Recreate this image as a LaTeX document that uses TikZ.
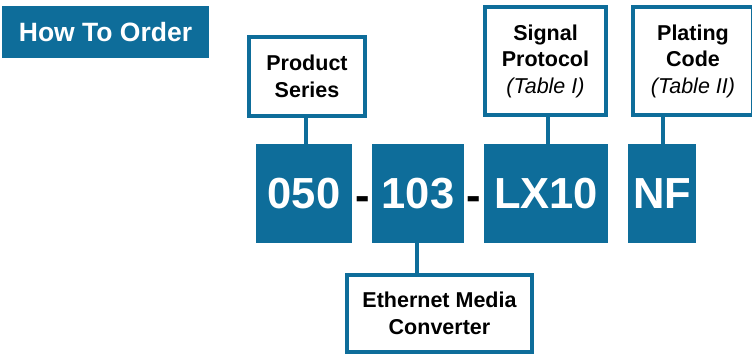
\documentclass[tikz,border=0pt]{standalone}
\usepackage{fontspec}
\setmainfont{Liberation Sans}
\definecolor{toblue}{RGB}{14,109,154}
\begin{document}
\begin{tikzpicture}[x=1pt,y=-1pt,
  bluebox/.style={fill=toblue, inner sep=0pt, text=white, font=\fontsize{43.5}{50}\selectfont\bfseries},
  labelbox/.style={draw=toblue, line width=4pt, fill=white, inner sep=0pt, align=center, font=\fontsize{21.5}{26.5}\selectfont\bfseries},
  link/.style={draw=toblue, line width=4.5pt},
  sep/.style={inner sep=0pt, anchor=base, font=\fontsize{43.5}{50}\selectfont\bfseries}
]
\clip (0,0) rectangle (752,354);
\fill[white] (0,0) rectangle (752,354);

\node[bluebox, minimum width=207pt, minimum height=52pt, font=\fontsize{26.5}{30}\selectfont\bfseries] (title) at (105.5,32) {How To Order};

\node[bluebox, minimum width=96pt, minimum height=99pt] (n050) at (304,193.5) {050};
\node[bluebox, minimum width=92pt, minimum height=99pt] (n103) at (418,193.5) {103};
\node[bluebox, minimum width=124pt, minimum height=99pt] (nlx) at (546,193.5) {LX10};
\node[bluebox, minimum width=68pt, minimum height=99pt] (nnf) at (662,193.5) {NF};

\node[sep] (d1) at (362.5,210) {-};
\node[sep] (d2) at (474,210) {-};

\node[labelbox, minimum width=116pt, minimum height=79pt] (prod) at (307,76.5) {Product\\Series};
\node[labelbox, minimum width=121pt, minimum height=108pt] (sig) at (545.5,61) {Signal\\Protocol\\{\mdseries\itshape (Table I)}};
\node[labelbox, minimum width=120pt, minimum height=108pt] (plat) at (693,61) {Plating\\Code\\{\mdseries\itshape (Table II)}};
\node[labelbox, minimum width=185pt, minimum height=77pt] (eth) at (439.5,313.5) {Ethernet Media\\Converter};

\draw[link] ([xshift=-1pt]prod.south) -- ([xshift=2pt]n050.north);
\draw[link] ([xshift=2.5pt]sig.south) -- ([xshift=2pt]nlx.north);
\draw[link] ([xshift=-30pt]plat.south) -- ([xshift=1pt]nnf.north);
\draw[link] ([xshift=-1pt]n103.south) -- ([xshift=-22.5pt]eth.north);
\end{tikzpicture}
\end{document}
